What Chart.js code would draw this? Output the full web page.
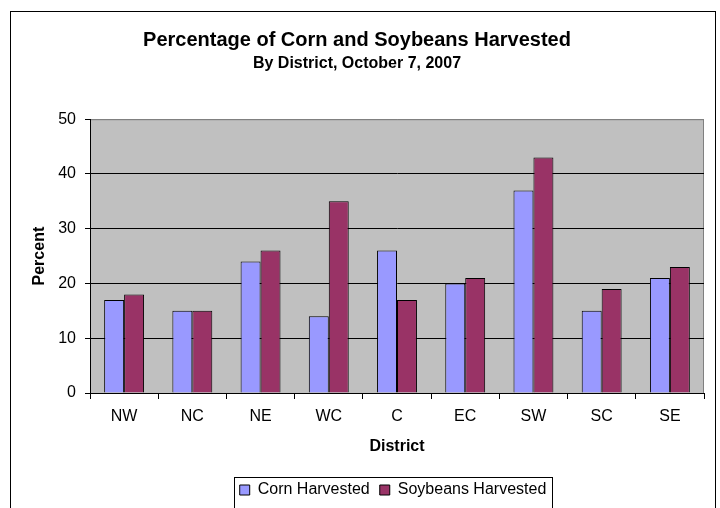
<!DOCTYPE html>
<html>
<head>
<meta charset="utf-8">
<script src="https://cdn.jsdelivr.net/npm/chart.js@4/dist/chart.umd.min.js"></script>
<style>
    html, body { margin: 0; padding: 0; background: #fff; }
    #wrap { width: 720px; height: 508px; }
</style>
</head>
<body>
<div id="wrap"><canvas id="harvestChart"></canvas></div>
<script>
const districts = ['NW', 'NC', 'NE', 'WC', 'C', 'EC', 'SW', 'SC', 'SE'];
const cornHarvested = [17, 15, 24, 14, 26, 20, 37, 15, 21];
const soybeansHarvested = [18, 15, 26, 35, 17, 21, 43, 19, 23];
const yTicks = [0, 10, 20, 30, 40, 50];

Chart.defaults.font.family = '"Liberation Sans", Arial, sans-serif';
Chart.defaults.color = '#000';

// gray plot area, outer frame and legend frame
const frames = {
    id: 'frames',
    afterLayout(chart) {
        // legend sits a bit right of the middle in the original
        chart.legend.left += 36;
        chart.legend.right += 36;
    },
    beforeDraw(chart) {
        const ctx = chart.ctx;
        const a = chart.chartArea;
        ctx.save();
        ctx.fillStyle = '#C0C0C0';
        ctx.fillRect(a.left, a.top, a.right - a.left, a.bottom - a.top);
        ctx.strokeStyle = '#808080';
        ctx.lineWidth = 1;
        ctx.strokeRect(a.left + 0.5, a.top + 0.5, a.right - a.left - 1, a.bottom - a.top);
        ctx.strokeStyle = '#000';
        ctx.strokeRect(10.5, 11.5, 705, 520);
        ctx.restore();
    },
    afterDraw(chart) {
        const boxes = chart.legend.legendHitBoxes;
        if (!boxes || !boxes.length) return;
        let left = Infinity, right = -Infinity;
        boxes.forEach(b => {
            left = Math.min(left, b.left);
            right = Math.max(right, b.left + b.width);
        });
        const ctx = chart.ctx;
        ctx.save();
        ctx.strokeStyle = '#000';
        ctx.lineWidth = 1;
        ctx.strokeRect(Math.round(left) - 5.5, 477.5, Math.round(right - left) + 11, 40);
        ctx.restore();
    }
};

new Chart(document.getElementById('harvestChart'), {
    type: 'bar',
    data: {
        labels: districts,
        datasets: [
            {
                label: 'Corn Harvested',
                data: cornHarvested,
                backgroundColor: '#9999FF',
                borderColor: '#000',
                borderWidth: 1
            },
            {
                label: 'Soybeans Harvested',
                data: soybeansHarvested,
                backgroundColor: '#993366',
                borderColor: '#000',
                borderWidth: 1
            }
        ]
    },
    options: {
        responsive: true,
        maintainAspectRatio: false,
        animation: false,
        events: [],
        layout: { padding: { left: 10, right: 16, top: 0, bottom: 0 } },
        datasets: {
            bar: { barPercentage: 1, categoryPercentage: 0.585 }
        },
        plugins: {
            title: {
                display: true,
                text: 'Percentage of Corn and Soybeans Harvested',
                font: { size: 20, weight: 'bold' },
                padding: { top: 28, bottom: 0 }
            },
            subtitle: {
                display: true,
                text: 'By District, October 7, 2007',
                font: { size: 16, weight: 'bold' },
                color: '#000',
                padding: { top: 2, bottom: 46 }
            },
            legend: {
                position: 'bottom',
                labels: {
                    boxWidth: 10,
                    boxHeight: 10,
                    padding: 10,
                    font: { size: 16 }
                }
            },
            tooltip: { enabled: false }
        },
        scales: {
            x: {
                afterFit(scale) { scale.height = 79; },
                grid: {
                    drawOnChartArea: false,
                    drawTicks: true,
                    tickLength: 6,
                    color: '#000'
                },
                border: { color: '#000' },
                ticks: { padding: 8, font: { size: 16 } },
                title: {
                    display: true,
                    text: 'District',
                    font: { size: 16, weight: 'bold' },
                    padding: { top: 0, bottom: 16 }
                }
            },
            y: {
                min: 0,
                max: 50,
                afterFit(scale) { scale.width = 80; },
                afterBuildTicks(scale) { scale.ticks = yTicks.map(v => ({ value: v })); },
                grid: {
                    color: ctx => (ctx.tick && ctx.tick.value === 50 ? '#808080' : '#000'),
                    tickColor: '#000',
                    tickLength: 5
                },
                border: { color: '#000' },
                ticks: { padding: 9, font: { size: 16 } },
                title: {
                    display: true,
                    text: 'Percent',
                    font: { size: 16, weight: 'bold' },
                    padding: { top: 20, bottom: 0 }
                }
            }
        }
    },
    plugins: [frames]
});
</script>
</body>
</html>
